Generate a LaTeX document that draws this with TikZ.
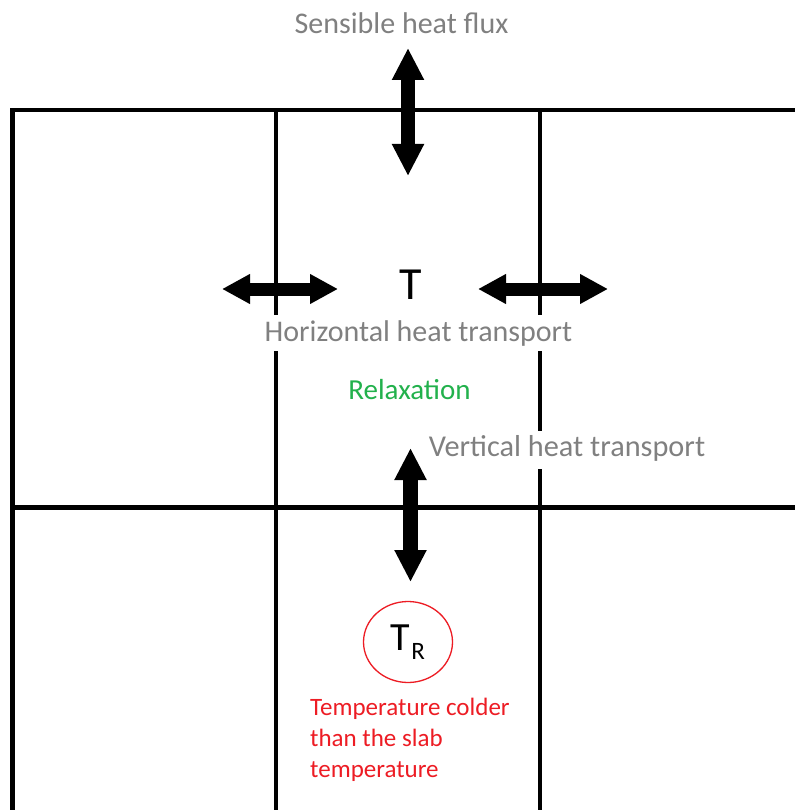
\documentclass[tikz,border=0pt]{standalone}
\usepackage{fontspec}
\setmainfont{Carlito}
\usetikzlibrary{arrows.meta,shapes.geometric}
\definecolor{txtgray}{RGB}{128,128,128}
\definecolor{pgreen}{RGB}{34,177,76}
\definecolor{pred}{RGB}{237,28,36}
\tikzset{
  gridline/.style={line width=4.5pt, black, line join=miter},
  bigarrowv/.style={line width=14pt, {Triangle[width=30pt,length=32pt]}-{Triangle[width=30pt,length=32pt]}},
  bigarrowh/.style={line width=13pt, {Triangle[width=28pt,length=28pt]}-{Triangle[width=28pt,length=28pt]}},
  graytext/.style={text=txtgray, font=\fontsize{30}{36}\selectfont, inner sep=0pt, anchor=base},
}
\begin{document}
\begin{tikzpicture}[x=1pt,y=-1pt]
\fill[white] (0,0) rectangle (794,810);
\useasboundingbox (0,0) rectangle (794,810);
% grid
\coordinate (cBL) at (12.5,812);
\coordinate (cTL) at (12.5,110);
\coordinate (cTR) at (796,110);
\coordinate (v1t) at (276,110);
\coordinate (v1b) at (276,812);
\coordinate (v2t) at (540,110);
\coordinate (v2b) at (540,812);
\coordinate (hl) at (12.5,507.5);
\coordinate (hr) at (796,507.5);
\draw[gridline] (cBL) -- (cTL) -- (cTR);
\draw[gridline] (v1t) -- (v1b);
\draw[gridline] (v2t) -- (v2b);
\draw[gridline] (hl) -- (hr);
% texts
\node[graytext] (sens) at (401.5,34) {Sensible heat flux};
\node[graytext, fill=white, text height=26.5pt, text depth=9.5pt, inner xsep=3pt] (horiz) at (418.5,341.7) {Horizontal heat transport};
\node[graytext, text=pgreen, font=\fontsize{29}{35}\selectfont] (relax) at (409.5,399) {Relaxation};
\node[graytext, fill=white, text height=25pt, text depth=13pt, inner xsep=3pt, font=\fontsize{30.3}{36}\selectfont] (vert) at (567,456) {Vertical heat transport};
\node[anchor=base, inner sep=0pt, font=\fontsize{46}{50}\selectfont] (T) at (411,299) {T};
\node[draw=pred, line width=1.3pt, ellipse, minimum width=89pt, minimum height=81pt, inner sep=0pt] (TR) at (408,642)
  {\fontsize{40}{40}\selectfont T\kern1pt\raisebox{-9pt}{\fontsize{25}{25}\selectfont R}};
\node[anchor=north west, inner sep=0pt, align=left, text=pred, font=\fontsize{25}{31}\selectfont] (cold) at (310,698)
  {Temperature colder\\than the slab\\temperature};
% arrows
\coordinate (a1t) at (408,48);
\coordinate (a1b) at (408,176);
\coordinate (a2l) at (222,289);
\coordinate (a2r) at (338,289);
\coordinate (a3l) at (478,289);
\coordinate (a3r) at (608,289);
\coordinate (a4t) at (410.5,448);
\coordinate (a4b) at (410.5,582);
\draw[bigarrowv] (a1t) -- (a1b);
\draw[bigarrowh] (a2l) -- (a2r);
\draw[bigarrowh] (a3l) -- (a3r);
\draw[bigarrowv, line width=15pt] (a4t) -- (a4b);
\end{tikzpicture}
\end{document}
